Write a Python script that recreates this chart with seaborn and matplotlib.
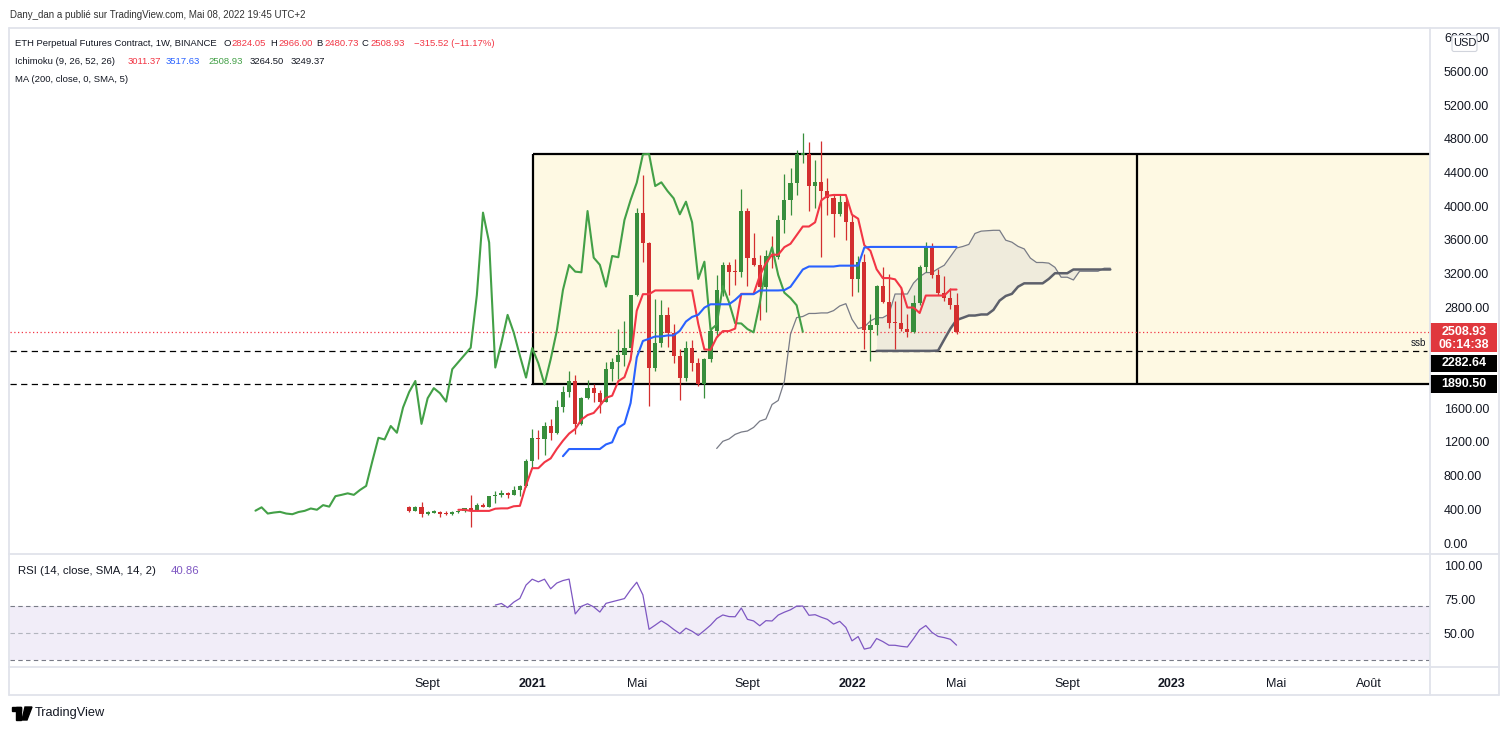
import numpy as np
import pandas as pd
import matplotlib
matplotlib.use("Agg")
import matplotlib.pyplot as plt
from matplotlib import font_manager
from matplotlib.patches import Rectangle, FancyBboxPatch, Polygon
from matplotlib.lines import Line2D
import seaborn as sns

# ETH perpetual futures (Binance), weekly bars: week of 17 Aug 2020 .. week of 2 May 2022
OPEN = [424, 384, 424, 350, 362, 370, 350, 342, 368, 382,
        410, 395, 450, 432, 556, 572, 590, 572, 630, 678,
        970, 1250, 1230, 1390, 1310, 1610, 1795, 1925, 1415, 1720,
        1840, 1780, 1680, 2065, 2150, 2235, 2320, 2945, 3925, 3570,
        2085, 2380, 2710, 2500, 2225, 1965, 2315, 2135, 1885, 2182,
        2520, 3006, 3303, 3224, 3216, 3944, 3390, 3305, 3046, 3410,
        3395, 3837, 4075, 4281, 4612, 4622, 4241, 4285, 4182, 4095,
        3905, 4055, 3810, 3137, 3342, 2531, 2595, 3053, 2860, 2612,
        2608, 2542, 2503, 2848, 3283, 3513, 3184, 2974, 2910, 2824.05]
HIGH = [445, 436, 484, 385, 395, 380, 375, 378, 395, 420,
        570, 470, 475, 560, 622, 630, 600, 680, 690, 1000,
        1350, 1345, 1440, 1475, 1700, 1870, 2040, 2000, 1740, 1940,
        1890, 1820, 2150, 2200, 2545, 2640, 2950, 3980, 4372.40, 3580,
        2900, 2890, 2800, 2600, 2300, 2400, 2410, 2200, 2200, 2550,
        3185, 3335, 3335, 3375, 4200, 3980, 3680, 3420, 3480, 3650,
        3900, 4380, 4460, 4665, 4870, 4770, 4550, 4776, 4340, 4130,
        4130, 4100, 3900, 3410, 3430, 2720, 3060, 3280, 3200, 2870,
        3040, 2720, 2950, 3300, 3580, 3560, 3250, 3170, 3030, 2966.00]
LOW = [372, 376, 305, 330, 355, 310, 335, 335, 360, 365,
       192.88, 375, 430, 428, 480, 545, 535, 570, 560, 670,
       890, 1000, 1050, 1220, 1300, 1560, 1730, 1300, 1405, 1710,
       1680, 1540, 1670, 1930, 1950, 2100, 2250, 2930, 3340, 1628.74,
       2040, 2330, 2330, 2140, 1700, 1930, 2040, 1860, 1720, 2150,
       2450, 2930, 2950, 3070, 3160, 3050, 3290, 2650, 2750, 3270,
       3380, 3680, 3900, 4140, 4510, 3950, 3980, 3400, 3900, 3640,
       3880, 3600, 2930, 2985, 2300, 2165.26, 2475, 2850, 2560, 2300,
       2520, 2442.74, 2500, 2830, 3220, 3150, 2950, 2880, 2780, 2480.73]
CLOSE = [384, 424, 350, 362, 370, 350, 342, 368, 382, 410,
         395, 450, 432, 556, 572, 590, 572, 630, 678, 970,
         1250, 1230, 1390, 1310, 1610, 1795, 1925, 1415, 1720, 1840,
         1780, 1680, 2065, 2150, 2235, 2320, 2945, 3925, 3570, 2085,
         2380, 2710, 2500, 2225, 1965, 2315, 2135, 1885, 2182, 2520,
         3006, 3303, 3224, 3216, 3944, 3390, 3305, 3046, 3410, 3395,
         3837, 4075, 4281, 4618, 4622, 4241, 4285, 4182, 4095, 3905,
         4055, 3810, 3137, 3342, 2531, 2595, 3053, 2860, 2612, 2608,
         2542, 2503, 2848, 3283, 3513, 3184, 2974, 2910, 2824.05, 2508.93]

LAST_CLOSE = 2508.93
SSB_LEVEL = 2282.64
SUPPORT_LEVEL = 1890.50
RANGE_TOP = 4622.0
RANGE_START = 20.1     # bar where the drawn range box begins
RANGE_SPLIT = 118.3    # vertical line inside the box

TIME_TICKS = [3, 20, 37, 55, 72, 89, 107, 124, 141, 156]
TIME_LABELS = ["Sept", "2021", "Mai", "Sept", "2022", "Mai", "Sept", "2023", "Mai", "Août"]
PRICE_TICKS = list(range(0, 6001, 400))
COVERED_TICKS = [2000, 2400]   # hidden behind the price labels on the scale
RSI_TICKS = [50, 75, 100]
RSI_LAST = "40.86"

GREEN = "#388e3c"
RED = "#d32f2f"
DARK = "#131722"

# screenshot geometry
W, H = 1509, 731
X0_PX, BAR_PX = 409.2, 6.15
Y0_PX, PX_PER_USD = 543.0, 0.08417


def fx(px):
    return px / W


def fy(py):
    return 1 - py / H


def has_font(name):
    try:
        font_manager.findfont(font_manager.FontProperties(family=name), fallback_to_default=False)
        return True
    except ValueError:
        return False


def rsi(closes, n=14):
    c = np.asarray(closes, float)
    d = np.diff(c)
    up = np.where(d > 0, d, 0.0)
    dn = np.where(d < 0, -d, 0.0)
    out = np.full(len(c), np.nan)
    au, ad = up[:n].mean(), dn[:n].mean()
    out[n] = 100 - 100 / (1 + au / ad)
    for i in range(n, len(d)):
        au = (au * (n - 1) + up[i]) / n
        ad = (ad * (n - 1) + dn[i]) / n
        out[i + 1] = 100 - 100 / (1 + au / ad)
    return out


sns.set_theme(style="white")
plt.rcParams["font.family"] = ["Liberation Sans", "DejaVu Sans"]

# legend texts use a narrow face when there is one
if has_font("Liberation Sans Narrow"):
    LEG_FAMILY, LEG_SCALE = ["Liberation Sans Narrow", "DejaVu Sans"], 1.2
else:
    LEG_FAMILY, LEG_SCALE = ["Liberation Sans", "DejaVu Sans"], 1.0

df = pd.DataFrame({"open": OPEN, "high": HIGH, "low": LOW, "close": CLOSE})
df["bar"] = np.arange(len(df))
hi, lo = df["high"], df["low"]
df["tenkan"] = (hi.rolling(9).max() + lo.rolling(9).min()) / 2
df["kijun"] = (hi.rolling(26).max() + lo.rolling(26).min()) / 2
df["span_a"] = (df["tenkan"] + df["kijun"]) / 2
df["span_b"] = (hi.rolling(52).max() + lo.rolling(52).min()) / 2
df["rsi"] = rsi(CLOSE)

fig = plt.figure(figsize=(W / 100, H / 100), dpi=100)
fig.patch.set_facecolor("white")

ax = fig.add_axes([fx(10), fy(554), (1430 - 10) / W, (554 - 28) / H])
rax = fig.add_axes([fx(10), fy(667), (1430 - 10) / W, (667 - 554) / H], sharex=ax)

xmin = (10 - X0_PX) / BAR_PX
xmax = (1430 - X0_PX) / BAR_PX
ymax = (Y0_PX - 28) / PX_PER_USD
ymin = (Y0_PX - 554) / PX_PER_USD
ax.set_xlim(xmin, xmax)
ax.set_ylim(ymin, ymax)
upp = (ymax - ymin) / 526.0   # price units per pixel

# range box
ax.add_patch(Rectangle((RANGE_START, SUPPORT_LEVEL), xmax - RANGE_START, RANGE_TOP - SUPPORT_LEVEL,
                       facecolor="#fef9e3", edgecolor="none", zorder=0))
ax.hlines([RANGE_TOP, SUPPORT_LEVEL], RANGE_START, xmax, colors="black", linewidth=1.6, zorder=2)
ax.vlines([RANGE_START, RANGE_SPLIT], SUPPORT_LEVEL, RANGE_TOP, colors="black", linewidth=1.6, zorder=2)

# horizontal levels
ax.hlines(SUPPORT_LEVEL, xmin, RANGE_START, colors="black", linewidth=0.9,
          linestyles=(0, (5, 3.5)), zorder=2)
ax.hlines(SSB_LEVEL, xmin, xmax - 0.5, colors="black", linewidth=0.9,
          linestyles=(0, (5, 3.5)), zorder=2)
ax.axhline(LAST_CLOSE, color="#f23645", linewidth=0.9, linestyle=(0, (1, 2)), zorder=2)
ax.annotate("ssb", (xmax, SSB_LEVEL), xytext=(-3, 2), textcoords="offset points",
            ha="right", va="bottom", fontsize=7, color=DARK)

# ichimoku cloud
shift = 25
cloud = df.dropna(subset=["span_a", "span_b"])
ax.fill_between(cloud["bar"] + shift, cloud["span_a"], cloud["span_b"],
                color="#efebdc", linewidth=0, zorder=1)
sa = df.dropna(subset=["span_a"])
sns.lineplot(x=sa["bar"] + shift, y=sa["span_a"], ax=ax, color="#787b86", linewidth=0.9, zorder=2)
sb = df.dropna(subset=["span_b"])
sns.lineplot(x=sb["bar"] + shift, y=sb["span_b"], ax=ax, color="#5d606b", linewidth=1.8, zorder=2)

# candles
up = df["close"] >= df["open"]
colors = np.where(up, GREEN, RED)
ax.vlines(df["bar"], df["low"], df["high"], colors=colors, linewidth=0.9, zorder=3)
body_lo = np.minimum(df["open"], df["close"])
body_h = np.maximum((df["close"] - df["open"]).abs(), 1.5 * upp)
ax.bar(df["bar"], body_h, bottom=body_lo, width=0.68, color=colors, linewidth=0, zorder=3)

# ichimoku lines
sns.lineplot(x=df["bar"] - shift, y=df["close"], ax=ax, color="#43a047", linewidth=1.5, zorder=4)
t = df.dropna(subset=["tenkan"])
sns.lineplot(x=t["bar"], y=t["tenkan"], ax=ax, color="#f23645", linewidth=1.5, zorder=4)
k = df.dropna(subset=["kijun"])
sns.lineplot(x=k["bar"], y=k["kijun"], ax=ax, color="#2962ff", linewidth=1.5, zorder=4)

ax.set_xlabel("")
ax.set_ylabel("")
ax.yaxis.tick_right()
ax.set_yticks(PRICE_TICKS)
ax.set_yticklabels(["" if v in COVERED_TICKS else f"{v:.2f}" for v in PRICE_TICKS])
ax.tick_params(axis="y", length=0, pad=10, labelsize=9, labelcolor=DARK)
ax.tick_params(axis="x", bottom=False, labelbottom=False)
for s in ax.spines.values():
    s.set_visible(False)

# RSI pane
rax.set_ylim(25, 108.1)
rax.axhspan(30, 70, color="#7e57c2", alpha=0.1, linewidth=0, zorder=0)
rax.axhline(70, color="#787b86", linewidth=0.8, linestyle=(0, (4, 3)), zorder=1)
rax.axhline(30, color="#787b86", linewidth=0.8, linestyle=(0, (4, 3)), zorder=1)
rax.axhline(50, color="#b2b5be", linewidth=0.8, linestyle=(0, (4, 3)), zorder=1)
r = df.dropna(subset=["rsi"])
sns.lineplot(x=r["bar"], y=r["rsi"], ax=rax, color="#7e57c2", linewidth=0.9, zorder=3)
rax.set_xlabel("")
rax.set_ylabel("")
rax.yaxis.tick_right()
rax.set_yticks(RSI_TICKS)
rax.yaxis.set_major_formatter("{x:.2f}")
rax.tick_params(axis="y", length=0, pad=10, labelsize=9, labelcolor=DARK)
rax.set_xticks(TIME_TICKS)
rax.set_xticklabels(TIME_LABELS)
rax.tick_params(axis="x", length=0, pad=8, labelsize=9, labelcolor=DARK)
for lab in rax.get_xticklabels():
    if lab.get_text().isdigit():
        lab.set_fontweight("bold")
for s in rax.spines.values():
    s.set_visible(False)
rax.set_xlim(xmin, xmax)

# price scale labels
pax = fig.add_axes([fx(1430), fy(554), (1498 - 1430) / W, (554 - 28) / H])
pax.set_xlim(0, 68)
pax.set_ylim(ymin, ymax)
pax.axis("off")
pax.add_patch(Rectangle((0, LAST_CLOSE - 20 * upp), 67, 29 * upp, facecolor="#e0383e", edgecolor="none"))
pax.text(34, LAST_CLOSE - 0.5 * upp, f"{LAST_CLOSE:.2f}", color="white", fontsize=9,
         fontweight="bold", ha="center", va="center")
pax.text(34, LAST_CLOSE - 13.5 * upp, "06:14:38", color="white", fontsize=9,
         fontweight="bold", ha="center", va="center")
pax.add_patch(Rectangle((0, SSB_LEVEL - 21 * upp), 67, 17 * upp, facecolor="black", edgecolor="none"))
pax.text(34, SSB_LEVEL - 12.5 * upp, f"{SSB_LEVEL:.2f}", color="white", fontsize=9,
         fontweight="bold", ha="center", va="center")
pax.add_patch(Rectangle((0, SUPPORT_LEVEL - 9.5 * upp), 67, 18 * upp, facecolor="black", edgecolor="none"))
pax.text(34, SUPPORT_LEVEL - 0.5 * upp, f"{SUPPORT_LEVEL:.2f}", color="white", fontsize=9,
         fontweight="bold", ha="center", va="center")
usd_y = PRICE_TICKS[-1] - 5.5 * upp
pax.add_patch(FancyBboxPatch((22, usd_y - 8 * upp), 25, 16 * upp,
                             boxstyle="round,pad=0,rounding_size=2", facecolor="white",
                             edgecolor="#d1d4dc", linewidth=0.8, mutation_aspect=upp))
pax.text(34.5, usd_y, "USD", color=DARK, fontsize=8, ha="center", va="center")

# chart frame
frame = "#e0e3eb"
for (xa, ya, xb, yb) in [(9, 28, 1499, 28), (9, 695, 1499, 695), (9, 28, 9, 695), (1499, 28, 1499, 695),
                         (1430, 28, 1430, 695), (9, 554, 1499, 554), (9, 667, 1499, 667)]:
    fig.add_artist(Line2D([fx(xa), fx(xb)], [fy(ya), fy(yb)], color=frame, linewidth=1.3,
                          transform=fig.transFigure))


def put(x, y, s, color=DARK, size=6.8, **kw):
    fig.text(fx(x), fy(y), s, color=color, fontsize=size * LEG_SCALE, family=LEG_FAMILY,
             ha="left", va="center", **kw)


put(10, 15, "Dany_dan a publié sur TradingView.com, Mai 08, 2022 19:45 UTC+2", color="#333333", size=7.0)

put(15, 43, "ETH Perpetual Futures Contract, 1W, BINANCE")
for x_lab, letter, val in [(223, "O", "2824.05"), (270, "H", "2966.00"),
                           (316, "B", "2480.73"), (362, "C", "2508.93")]:
    put(x_lab, 43, letter)
    put(x_lab + 8, 43, val, color="#f23645")
put(414, 43, "\u2212315.52 (\u221211.17%)", color="#f23645")

put(15, 61, "Ichimoku (9, 26, 52, 26)")
put(128, 61, "3011.37", color="#f23645")
put(166, 61, "3517.63", color="#2962ff")
put(208, 61, "2508.93", color="#43a047")
put(250, 61, "3264.50")
put(291, 61, "3249.37")
put(15, 80, "MA (200, close, 0, SMA, 5)")

put(18, 571, "RSI (14, close, SMA, 14, 2)", size=8.2)
put(171, 571, RSI_LAST, color="#7e57c2", size=8.2)

# TradingView logo + name
logo = fig.transFigure
fig.add_artist(Rectangle((fx(12), fy(711)), 9 / W, 4 / H, color="black", transform=logo))
fig.add_artist(Rectangle((fx(16), fy(720)), 5 / W, 13 / H, color="black", transform=logo))
fig.add_artist(Polygon([(fx(25), fy(707)), (fx(32), fy(707)), (fx(27), fy(720)), (fx(22), fy(720))],
                       closed=True, color="black", transform=logo))
fig.text(fx(35), fy(713), "TradingView", color=DARK, fontsize=9.2, ha="left", va="center")

fig.savefig("out.png", dpi=100, facecolor="white")
